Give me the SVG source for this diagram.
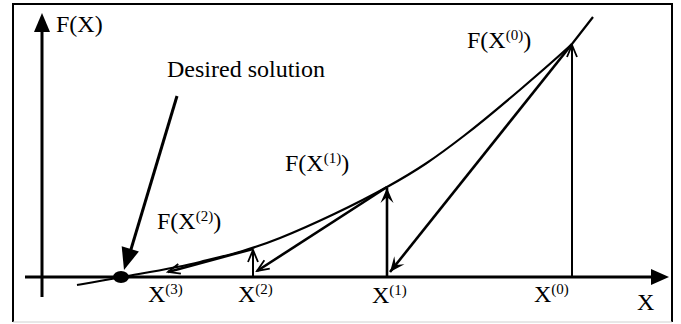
<svg xmlns="http://www.w3.org/2000/svg" width="681" height="324" viewBox="0 0 681 324">
<style>
text{font-family:"Liberation Serif","Times New Roman",serif;font-size:24px;fill:#000}
.sup{font-size:15px}
.ln{stroke:#000;fill:none;stroke-linecap:butt}
</style>
<defs>
<marker id="fill" markerUnits="userSpaceOnUse" viewBox="-16 -8 18 16" markerWidth="18" markerHeight="16" refX="0" refY="0" orient="auto">
<path d="M0,0 L-15,-6.5 L-9,0 L-15,6.5 Z" fill="#000"/>
</marker>
<marker id="open" markerUnits="userSpaceOnUse" viewBox="-16 -8 18 16" markerWidth="18" markerHeight="16" refX="0" refY="0" orient="auto">
<path d="M-12,-5 L0,0 L-12,5" fill="none" stroke="#000" stroke-width="1.8"/>
</marker>
</defs>
<rect width="681" height="324" fill="#fff"/>
<path d="M13,322 V4 H672 V322" fill="none" stroke="#000" stroke-width="2"/>
<line x1="13" y1="322" x2="672" y2="322" stroke="#d0d0d0" stroke-width="1"/>

<g id="axes">
<line class="ln" x1="42" y1="297" x2="42" y2="30" stroke-width="3"/>
<path d="M42,13 L50,32 L34,32 Z" fill="#000"/>
<line class="ln" x1="25" y1="277" x2="653" y2="277" stroke-width="3"/>
<path d="M669,277 L651,285 L651,269 Z" fill="#000"/>
</g>

<g id="curve">
<path class="ln" stroke-width="2.2" d="M77,285 C84.5,283.7 101.5,280.8 122,277 C142.5,273.2 173.7,268.5 200,262 C226.3,255.5 248.8,250.5 280,238 C311.2,225.5 356.2,204.2 387,187 C417.8,169.8 434.2,158.8 465,135 C495.8,111.2 550.7,63.7 572,44 C579,35 589.5,21.5 593,17"/>
</g>

<g id="solution">
<ellipse cx="121" cy="277" rx="8" ry="6" fill="#000"/>
</g>

<g id="connectors">
<line class="ln" x1="177" y1="96" x2="129" y2="256" stroke-width="3"/>
<path d="M124,270 L138.9,251.5 L121.7,246.3 Z" fill="#000"/>
<line class="ln" x1="572" y1="277" x2="572" y2="45" stroke-width="2" marker-end="url(#open)"/>
<line class="ln" x1="572" y1="44" x2="390" y2="272" stroke-width="2.6" marker-end="url(#fill)"/>
<line class="ln" x1="387" y1="277" x2="387" y2="188" stroke-width="2.6" marker-end="url(#fill)"/>
<line class="ln" x1="387" y1="187" x2="257" y2="271" stroke-width="2.6" marker-end="url(#open)"/>
<line class="ln" x1="253" y1="277" x2="253" y2="250" stroke-width="2" marker-end="url(#open)"/>
<line class="ln" x1="253" y1="249" x2="168" y2="272" stroke-width="2.4" marker-end="url(#open)"/>
</g>

<g id="labels">
<text x="56" y="32">F(X)</text>
<text x="167" y="77">Desired solution</text>
<text x="467" y="48">F(X<tspan class="sup" dy="-8">(0)</tspan><tspan dy="8">)</tspan></text>
<text x="285" y="171">F(X<tspan class="sup" dy="-8">(1)</tspan><tspan dy="8">)</tspan></text>
<text x="157" y="229">F(X<tspan class="sup" dy="-8">(2)</tspan><tspan dy="8">)</tspan></text>
<text x="148" y="302">X<tspan class="sup" dy="-8">(3)</tspan></text>
<text x="238" y="302">X<tspan class="sup" dy="-8">(2)</tspan></text>
<text x="372" y="303">X<tspan class="sup" dy="-8">(1)</tspan></text>
<text x="534" y="302">X<tspan class="sup" dy="-8">(0)</tspan></text>
<text x="637" y="310">X</text>
</g>
</svg>
